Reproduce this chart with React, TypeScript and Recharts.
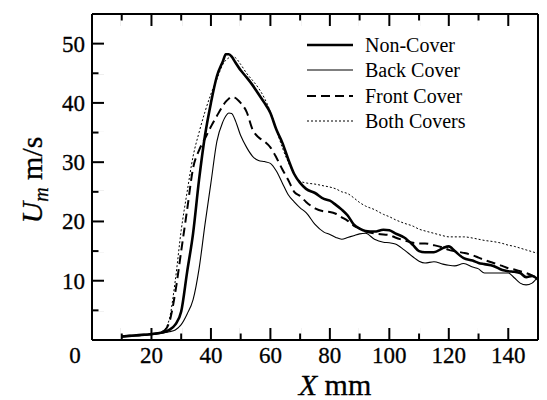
import { Line, LineChart, XAxis, YAxis } from "recharts";

// x positions (mm) shared by all four traces
const xPositions = [
  10, 15, 20, 24, 26, 28, 30, 32, 34, 36, 38, 40, 42, 44, 45, 46, 47, 48, 50,
  52, 54, 56, 58, 60, 62, 64, 66, 68, 70, 72, 75, 78, 80, 82, 84, 86, 88, 90,
  92, 95, 98, 100, 102, 105, 108, 110, 112, 115, 118, 120, 122, 125, 128, 130,
  132, 135, 138, 140, 142, 144, 146, 148, 150,
];

// Um (m/s)
const nonCover = [
  0.6, 0.8, 1.0, 1.3, 1.7, 2.6, 4.8, 11.5, 18, 27, 34.5, 40, 44.5, 47, 48.2,
  48.2, 47.8, 47, 45.5, 44.3, 43, 41.5, 40, 38.3, 35.5, 33.3, 30.5, 28, 26.5,
  25.5, 24.8, 23.8, 23.5, 22.8, 22, 21, 19.5, 18.8, 18.4, 18.3, 18.6, 18.5, 18,
  17.3, 16, 15, 14.8, 14.8, 15.5, 15.8, 15, 13.8, 13.4, 13, 12.8, 12.5, 11.8,
  11.6, 11.5, 11.3, 10.6, 10.8, 10.2,
];
const backCover = [
  0.5, 0.7, 0.9, 1.2, 1.4, 1.7, 2.6, 4.4, 6.8, 12, 19.5, 26.5, 33.5, 36.8, 37.8,
  38.3, 38.2, 37.3, 34.5, 32.5, 31, 30.3, 30.1, 29.8, 28.5, 26.5, 24.5, 23.3,
  22.3, 21.5, 19.5, 18.2, 17.8, 17.3, 17, 17.3, 17.6, 17.9, 18, 17, 16.5, 16.4,
  16.2, 15.2, 14, 13.3, 13, 13.2, 12.8, 12.6, 12.5, 12.9, 12.3, 12, 11.3, 11.3,
  11.3, 11.3, 10.5, 9.6, 9.3, 9.6, 10.7,
];
const frontCover = [
  0.6, 0.8, 1.0, 1.5, 3, 8, 15, 22, 29, 32, 34, 36, 37.8, 39.5, 40.2, 40.7, 41,
  40.9, 40, 38.5, 35.5, 34.2, 33.5, 32.5, 30.8, 28.8, 27, 25, 24.3, 23.3, 22.2,
  21.7, 21.6, 21.3, 20.7, 20.1, 19.3, 18.8, 18.3, 18, 17.8, 17.7, 17.3, 16.8,
  16.4, 16.3, 16.3, 16, 15.6, 15.2, 15, 14.7, 14.3, 13.9, 13.5, 13, 12.5, 12.1,
  11.9, 11.6, 11.3, 10.9, 10.4,
];
const bothCovers = [
  0.6, 0.8, 1.0, 1.6, 3.5, 10, 18.5, 25, 31, 35, 38.5, 41.5, 44, 46.5, 47.2,
  47.6, 47.8, 47.7, 46.5, 45, 43.8, 42.5, 40.8, 38.5, 35.5, 32.5, 30, 28, 26.8,
  26.5, 26.3, 26, 25.8, 25.5, 25, 24.7, 24, 23.2, 22.6, 22, 21.2, 20.8, 20.3,
  19.7, 19.2, 18.7, 18.4, 18, 17.6, 17.4, 17.4, 17.4, 17.2, 17, 16.8, 16.6,
  16.3, 16, 15.8, 15.5, 15.2, 14.9, 14.6,
];

const xTicks = [0, 10, 20, 30, 40, 50, 60, 70, 80, 90, 100, 110, 120, 130, 140];
const yTicks = [5, 10, 15, 20, 25, 30, 35, 40, 45, 50];
const seriesNames = ["Non-Cover", "Back Cover", "Front Cover", "Both Covers"];

const chartData = xPositions.map((x, i) => ({
  x,
  nonCover: nonCover[i],
  backCover: backCover[i],
  frontCover: frontCover[i],
  bothCovers: bothCovers[i],
}));

const font = "Liberation Serif, DejaVu Serif, serif";
const ink = "#000";

const lineStyles = [
  { key: "nonCover", width: 2.6, dash: undefined },
  { key: "backCover", width: 1.1, dash: undefined },
  { key: "frontCover", width: 2, dash: "9 5" },
  { key: "bothCovers", width: 1, dash: "2 2" },
];

const labelStyle = { fontFamily: font, fontSize: 23, fill: ink, stroke: ink, strokeWidth: 0.3 };
// axis ticks point inward: recharts draws the 12px major mark, minor marks get their outer half erased
const tickLineStyle = { stroke: ink, strokeWidth: 2 };
const erase = { stroke: "#fff", strokeWidth: 3 };

function BottomTick({ x, y, payload }: any) {
  const v = payload.value;
  const major = v % 20 === 0;
  return (
    <g>
      {!major && <path d={`M${x},${y - 6.5}V${y - 13}`} style={erase} />}
      {major && (
        <text x={v === 0 ? x - 17 : x} y={y + 23} textAnchor="middle" style={labelStyle}>
          {v}
        </text>
      )}
    </g>
  );
}

function TopTick({ x, y, payload }: any) {
  const v = payload.value;
  if (v % 20 === 0) return <g />;
  return <path d={`M${x},${y + 6.5}V${y + 13}`} style={erase} />;
}

function LeftTick({ x, y, payload }: any) {
  const v = payload.value;
  const major = v % 10 === 0;
  return (
    <g>
      {!major && <path d={`M${x + 6.5},${y}H${x + 13}`} style={erase} />}
      {major && (
        <text x={x - 7} y={y + 8} textAnchor="end" style={labelStyle}>
          {v}
        </text>
      )}
    </g>
  );
}

function RightTick({ x, y, payload }: any) {
  const v = payload.value;
  if (v % 10 === 0) return <g />;
  return <path d={`M${x - 6.5},${y}H${x - 13}`} style={erase} />;
}

function YTitle() {
  return (
    <text
      x={34}
      y={172}
      transform="rotate(-90, 34, 172)"
      textAnchor="middle"
      style={{ fontFamily: font, fontSize: 30, fill: ink, stroke: ink, strokeWidth: 0.3, whiteSpace: "pre" }}
    >
      <tspan fontStyle="italic">U</tspan>
      <tspan fontStyle="italic" fontSize={20} dy={6}>m</tspan>
      <tspan dy={-6}>{" m/s"}</tspan>
    </text>
  );
}

function XTitle() {
  return (
    <text
      x={327}
      y={387}
      textAnchor="middle"
      style={{ fontFamily: font, fontSize: 30, fill: ink, stroke: ink, strokeWidth: 0.3, whiteSpace: "pre" }}
    >
      <tspan fontStyle="italic">X</tspan>
      <tspan>{" mm"}</tspan>
    </text>
  );
}

function LegendBox() {
  return (
    <div style={{ position: "absolute", top: 24, left: 299, fontFamily: font, fontSize: 20, color: ink }}>
      {seriesNames.map((name, i) => (
        <div key={name} style={{ display: "flex", alignItems: "center", height: 25.5 }}>
          <svg width={46} height={10}>
            <line
              x1={0}
              y1={5}
              x2={46}
              y2={5}
              stroke={ink}
              strokeWidth={lineStyles[i].width}
              strokeDasharray={lineStyles[i].dash}
            />
          </svg>
          <span style={{ marginLeft: 12, lineHeight: "22px" }}>{name}</span>
        </div>
      ))}
    </div>
  );
}

export default function App() {
  return (
    <div style={{ position: "relative", width: 539, height: 392 }}>
      <LineChart width={539} height={392} data={chartData} margin={{ top: 5, right: 8, left: 0, bottom: 0 }}>
        <XAxis
          dataKey="x"
          type="number"
          domain={[0, 150]}
          ticks={xTicks}
          interval={0}
          tickSize={-12}
          tickMargin={12}
          tickLine={tickLineStyle}
          tick={(p: any) => <BottomTick {...p} />}
          axisLine={{ stroke: ink, strokeWidth: 2 }}
          height={60}
          label={<XTitle />}
        />
        <XAxis
          xAxisId="top"
          orientation="top"
          dataKey="x"
          type="number"
          domain={[0, 150]}
          ticks={xTicks.filter((t) => t > 0)}
          interval={0}
          tickSize={-12}
          tickMargin={12}
          tickLine={tickLineStyle}
          tick={(p: any) => <TopTick {...p} />}
          axisLine={{ stroke: ink, strokeWidth: 2 }}
          height={1}
        />
        <YAxis
          type="number"
          domain={[0, 55]}
          ticks={yTicks}
          interval={0}
          tickSize={-12}
          tickMargin={12}
          tickLine={tickLineStyle}
          tick={(p: any) => <LeftTick {...p} />}
          axisLine={{ stroke: ink, strokeWidth: 2 }}
          width={84}
          label={<YTitle />}
        />
        <YAxis
          yAxisId="right"
          orientation="right"
          type="number"
          domain={[0, 55]}
          ticks={yTicks}
          interval={0}
          tickSize={-12}
          tickMargin={12}
          tickLine={tickLineStyle}
          tick={(p: any) => <RightTick {...p} />}
          axisLine={{ stroke: ink, strokeWidth: 2 }}
          width={1}
        />
        {lineStyles.map((s, i) => (
          <Line
            key={s.key}
            dataKey={s.key}
            name={seriesNames[i]}
            type="monotone"
            stroke={ink}
            strokeWidth={s.width}
            strokeDasharray={s.dash}
            dot={false}
            activeDot={false}
            isAnimationActive={false}
          />
        ))}
      </LineChart>
      <LegendBox />
    </div>
  );
}
